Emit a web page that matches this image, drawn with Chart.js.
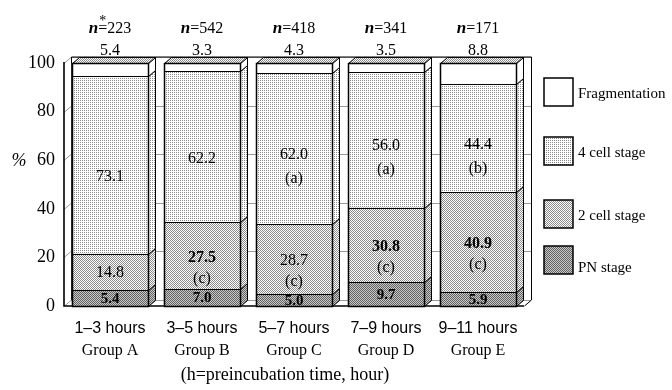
<!DOCTYPE html>
<html><head><meta charset="utf-8">
<script src="https://cdn.jsdelivr.net/npm/chart.js@4.4.1/dist/chart.umd.min.js"></script>
<style>html,body{margin:0;padding:0;background:#fff;}#wrap{width:672px;height:390px;}</style>
</head><body><div id="wrap"><canvas id="c" width="672" height="390"></canvas></div>
<script>
// ---- data ----
const hours = ['1\u20133 hours', '3\u20135 hours', '5\u20137 hours', '7\u20139 hours', '9\u201311 hours'];
const groups = ['Group A', 'Group B', 'Group C', 'Group D', 'Group E'];
const nCounts = ['223', '542', '418', '341', '171'];
const pnStage = [6.7, 7.0, 5.0, 9.7, 5.9];
const twoCell = [14.8, 27.5, 28.7, 30.8, 40.9];
const fourCell = [73.1, 62.2, 62.0, 56.0, 44.4];
const fragmentation = [5.4, 3.3, 4.3, 3.5, 8.8];
const pnLabels = ['5.4', '7.0', '5.0', '9.7', '5.9'];
const twoCellLetters = ['', '(c)', '(c)', '(c)', '(c)'];
const fourCellLetters = ['', '', '(a)', '(a)', '(b)'];
const twoCellBold = [false, true, false, true, true];
const yTicks = [0, 20, 40, 60, 80, 100];

function makePattern(bg, dot, mask) {
  const c = document.createElement('canvas');
  c.width = mask[0].length; c.height = mask.length;
  const x = c.getContext('2d');
  x.fillStyle = bg; x.fillRect(0, 0, c.width, c.height);
  x.fillStyle = dot;
  mask.forEach((row, j) => { for (let i = 0; i < row.length; i++) if (row[i] === '1') x.fillRect(i, j, 1, 1); });
  return x.createPattern(c, 'repeat');
}
const fourPat = makePattern('#ffffff', '#8a8a8a', ['10', '00']);
const twoPat = makePattern('#ffffff', '#8c8c8c', ['10', '01']);
const pnPat = makePattern('#c8c8c8', '#626262', ['10', '01']);
const topPat = makePattern('#ffffff', '#888888', ['10', '01']);

const DX = 7, DY = 6;
const SERIF = '"Liberation Serif", "Times New Roman", serif';
const SANS = '"Liberation Sans", Arial, sans-serif';
const px = v => Math.round(v) + 0.5;

const decor = {
  id: 'decor',
  beforeDatasetsDraw(chart) {
    const ctx = chart.ctx, a = chart.chartArea, y = chart.scales.y;
    ctx.save();
    ctx.strokeStyle = '#9a9a9a'; ctx.lineWidth = 1;
    yTicks.forEach(v => {
      const py = px(y.getPixelForValue(v));
      ctx.beginPath();
      ctx.moveTo(a.left, py); ctx.lineTo(a.left + DX, py - DY); ctx.lineTo(a.right + DX, py - DY);
      ctx.stroke();
    });
    ctx.strokeStyle = '#000';
    ctx.beginPath();
    ctx.moveTo(a.left + DX + 0.5, a.bottom - DY); ctx.lineTo(a.left + DX + 0.5, a.top - DY);
    ctx.lineTo(a.right + DX + 0.5, a.top - DY); ctx.lineTo(a.right + DX + 0.5, a.bottom - DY);
    ctx.lineTo(a.right + 0.5, a.bottom);
    ctx.stroke();
    ctx.lineWidth = 1.6;
    ctx.beginPath();
    ctx.moveTo(a.left, a.top - 1); ctx.lineTo(a.left, a.bottom); ctx.lineTo(a.right, a.bottom);
    ctx.stroke();
    ctx.restore();
  },
  afterDatasetsDraw(chart) {
    const ctx = chart.ctx;
    const n = chart.data.datasets.length;
    ctx.save();
    ctx.strokeStyle = '#000'; ctx.lineWidth = 1;
    for (let d = 0; d < n; d++) {
      const meta = chart.getDatasetMeta(d);
      const fill = chart.data.datasets[d].backgroundColor;
      meta.data.forEach(el => {
        const r = px(el.x + el.width / 2), l = px(el.x - el.width / 2);
        const top = px(Math.min(el.y, el.base)), bot = px(Math.max(el.y, el.base));
        ctx.beginPath();
        ctx.moveTo(r, top); ctx.lineTo(r + DX, top - DY); ctx.lineTo(r + DX, bot - DY); ctx.lineTo(r, bot);
        ctx.closePath();
        ctx.fillStyle = fill; ctx.fill(); ctx.stroke();
        ctx.beginPath(); ctx.moveTo(l, top); ctx.lineTo(r, top); ctx.stroke();
        if (d === n - 1) {
          ctx.beginPath();
          ctx.moveTo(l, top); ctx.lineTo(l + DX, top - DY); ctx.lineTo(r + DX, top - DY); ctx.lineTo(r, top);
          ctx.closePath();
          ctx.fillStyle = topPat; ctx.fill(); ctx.stroke();
        }
      });
    }
    const first = chart.getDatasetMeta(0), last = chart.getDatasetMeta(n - 1);
    ctx.lineWidth = 1.5;
    first.data.forEach((el, i) => {
      const t = last.data[i];
      const l = px(el.x - el.width / 2), r = px(el.x + el.width / 2);
      const tt = px(t.y), bb = px(el.base);
      ctx.strokeRect(l, tt, r - l, bb - tt);
    });
    ctx.fillStyle = '#000'; ctx.textAlign = 'center'; ctx.textBaseline = 'middle';
    const mid = (el) => (el.y + el.base) / 2;
    chart.getDatasetMeta(0).data.forEach((el, i) => {
      ctx.font = 'bold 15px ' + SERIF;
      ctx.fillText(pnLabels[i], el.x, mid(el) + 1);
    });
    chart.getDatasetMeta(1).data.forEach((el, i) => {
      ctx.font = (twoCellBold[i] ? 'bold ' : '') + '16px ' + SERIF;
      ctx.fillText(twoCell[i].toFixed(1), el.x, mid(el) + (twoCellLetters[i] ? 2 : 1));
      if (twoCellLetters[i]) { ctx.font = '16px ' + SERIF; ctx.fillText(twoCellLetters[i], el.x, mid(el) + 23); }
    });
    chart.getDatasetMeta(2).data.forEach((el, i) => {
      ctx.font = '16px ' + SERIF;
      ctx.fillText(fourCell[i].toFixed(1), el.x, mid(el) + (fourCellLetters[i] ? 6 : 12));
      if (fourCellLetters[i]) ctx.fillText(fourCellLetters[i], el.x, mid(el) + 30);
    });
    last.data.forEach((el, i) => {
      ctx.font = '16px ' + SERIF;
      ctx.fillText(fragmentation[i].toFixed(1), el.x, el.y - 12);
      const nf = 'italic bold 17px ' + SERIF, rf = '16px ' + SERIF;
      ctx.font = nf; const w1 = ctx.measureText('n').width;
      ctx.font = rf; const w2 = ctx.measureText('=' + nCounts[i]).width;
      const x0 = el.x - (w1 + w2) / 2, yy = el.y - 34;
      ctx.textAlign = 'left';
      ctx.font = nf; ctx.fillText('n', x0, yy);
      ctx.font = rf; ctx.fillText('=' + nCounts[i], x0 + w1, yy);
      if (i === 0) { ctx.font = '14px ' + SERIF; ctx.fillText('*', x0 + w1 + 1, yy - 8); }
      ctx.textAlign = 'center';
    });
    ctx.restore();
  },
  afterDraw(chart) {
    const ctx = chart.ctx, a = chart.chartArea;
    ctx.save();
    ctx.fillStyle = '#000'; ctx.textBaseline = 'middle';
    ctx.font = 'italic 18px ' + SERIF; ctx.textAlign = 'center';
    ctx.fillText('%', 19, 161);
    ctx.font = '18px ' + SERIF;
    ctx.fillText('(h=preincubation time, hour)', (a.left + a.right) / 2 - 9, 375);
    const ds = chart.data.datasets.slice().reverse();
    const tops = [78, 137, 200, 246];
    ds.forEach((d, i) => {
      const bx = 544, by = tops[i];
      ctx.fillStyle = d.backgroundColor; ctx.fillRect(bx, by, 29, 28);
      ctx.strokeStyle = '#000'; ctx.lineWidth = 1.5; ctx.strokeRect(bx, by, 29, 28);
      ctx.fillStyle = '#000'; ctx.textAlign = 'left'; ctx.font = '15px ' + SERIF;
      ctx.fillText(d.label, 578, by + 16 + (i === 3 ? 6 : 0));
    });
    ctx.restore();
  }
};

const barOpts = { borderWidth: 0, borderSkipped: false };
new Chart(document.getElementById('c'), {
  type: 'bar',
  data: {
    labels: hours,
    datasets: [
      Object.assign({ label: 'PN stage', data: pnStage, backgroundColor: pnPat }, barOpts),
      Object.assign({ label: '2 cell stage', data: twoCell, backgroundColor: twoPat }, barOpts),
      Object.assign({ label: '4 cell stage', data: fourCell, backgroundColor: fourPat }, barOpts),
      Object.assign({ label: 'Fragmentation', data: fragmentation, backgroundColor: '#ffffff' }, barOpts)
    ]
  },
  options: {
    responsive: false, animation: false,
    layout: { padding: { left: 0, top: 63, right: 148, bottom: 26 } },
    plugins: { legend: { display: false }, tooltip: { enabled: false } },
    datasets: { bar: { categoryPercentage: 1, barPercentage: 0.83 } },
    scales: {
      x: { stacked: true, grid: { display: false, drawTicks: false }, border: { display: false },
           ticks: { font: { family: SANS, size: 16 }, color: '#000', padding: 13, maxRotation: 0, autoSkip: false },
           afterFit(s) { s.height = 34; } },
      x2: { type: 'category', labels: groups, position: 'bottom', grid: { display: false, drawTicks: false }, border: { display: false },
            ticks: { font: { family: SERIF, size: 16 }, color: '#000', padding: 1, maxRotation: 0, autoSkip: false },
            afterFit(s) { s.height = 24; } },
      y: { stacked: true, min: 0, max: 100,
           ticks: { stepSize: 20, font: { family: SERIF, size: 18 }, color: '#000', padding: 9 },
           grid: { display: false, drawTicks: false }, border: { display: false },
           afterFit(s) { s.width = 64; } }
    }
  },
  plugins: [decor]
});
</script></body></html>
